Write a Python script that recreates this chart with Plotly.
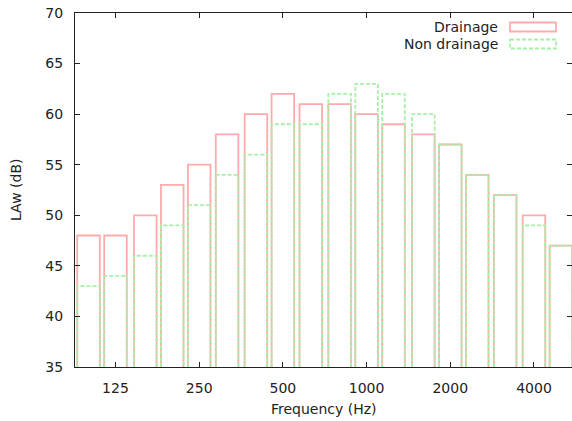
import math
import plotly.graph_objects as go

# ---- data ----
freqs = [100, 125, 160, 200, 250, 315, 400, 500, 630, 800, 1000, 1250, 1600, 2000, 2500, 3150, 4000, 5000]
drainage = [48, 48, 50, 53, 55, 58, 60, 62, 61, 61, 60, 59, 58, 57, 54, 52, 50, 47]
non_drainage = [43, 44, 46, 49, 51, 54, 56, 59, 59, 62, 63, 62, 60, 57, 54, 52, 49, 47]
tick_vals = [125, 250, 500, 1000, 2000, 4000]
tick_text = ["125", "250", "500", "1000", "2000", "4000"]
series_names = ["Drainage", "Non drainage"]

Y_MIN, Y_MAX = 35, 70
HALF = 1.098  # multiplicative half-width of boxes on log axis

RED = "#ffabab"
GREEN = "#a8f0a8"
FONT = "DejaVu Sans"
W, H = 572, 421
ML, MR, MT, MB = 75, 0, 13, 54


def box_path(xs, ys):
    px, py = [], []
    for f, v in zip(xs, ys):
        l, r = f / HALF, f * HALF
        px += [l, l, r, r, None]
        py += [Y_MIN, v, v, Y_MIN, None]
    return px, py


fig = go.Figure()
x1, y1 = box_path(freqs, drainage)
fig.add_trace(go.Scatter(x=x1, y=y1, mode="lines", name=series_names[0],
                         line=dict(color=RED, width=1.8), showlegend=False))
x2, y2 = box_path(freqs, non_drainage)
fig.add_trace(go.Scatter(x=x2, y=y2, mode="lines", name=series_names[1],
                         line=dict(color=GREEN, width=1.8, dash="4px,2px"), showlegend=False))

pw = W - ML - MR
ph = H - MT - MB


def pxx(px):
    return (px - ML) / pw


def pxy(py):
    return (H - MB - py) / ph


# legend (gnuplot style: text left, sample right)
legend_rows = [(series_names[0], RED, None, 27), (series_names[1], GREEN, "4px,2px", 44)]
annotations = []
shapes = []
for name, col, dash, cy in legend_rows:
    annotations.append(dict(text=name, x=pxx(500), y=pxy(cy), xref="paper", yref="paper",
                            xanchor="right", yanchor="middle", showarrow=False,
                            font=dict(family=FONT, size=14, color="#222")))
    shapes.append(dict(type="rect", xref="paper", yref="paper",
                       x0=pxx(510), x1=pxx(556), y0=pxy(cy - 4.5), y1=pxy(cy + 4.5),
                       line=dict(color=col, width=1.8, dash=dash), fillcolor="rgba(0,0,0,0)"))

annotations.append(dict(text="Frequency (Hz)", x=0.5, y=pxy(409), xref="paper", yref="paper",
                        xanchor="center", yanchor="middle", showarrow=False,
                        font=dict(family=FONT, size=14, color="#222")))
annotations.append(dict(text="LAw (dB)", x=pxx(16), y=0.5, xref="paper", yref="paper",
                        xanchor="center", yanchor="middle", showarrow=False, textangle=-90,
                        font=dict(family=FONT, size=14, color="#222")))

axis_common = dict(ticks="inside", ticklen=5, tickcolor="#222", showline=True, linecolor="#222",
                   linewidth=1, mirror="ticks", showgrid=False, zeroline=False,
                   tickfont=dict(family=FONT, size=14, color="#222"))

fig.update_layout(
    width=W, height=H,
    margin=dict(l=ML, r=MR, t=MT, b=MB, pad=0),
    paper_bgcolor="white", plot_bgcolor="white",
    font=dict(family=FONT, size=14, color="#222"),
    xaxis=dict(type="log", range=[math.log10(89.4), math.log10(5480)],
               tickvals=tick_vals, ticktext=tick_text, ticklabelstandoff=8, **axis_common),
    yaxis=dict(range=[Y_MIN, Y_MAX], tick0=35, dtick=5, ticklabelstandoff=8, **axis_common),
    annotations=annotations,
    shapes=shapes,
    showlegend=False,
)

fig.write_html("out.html")
